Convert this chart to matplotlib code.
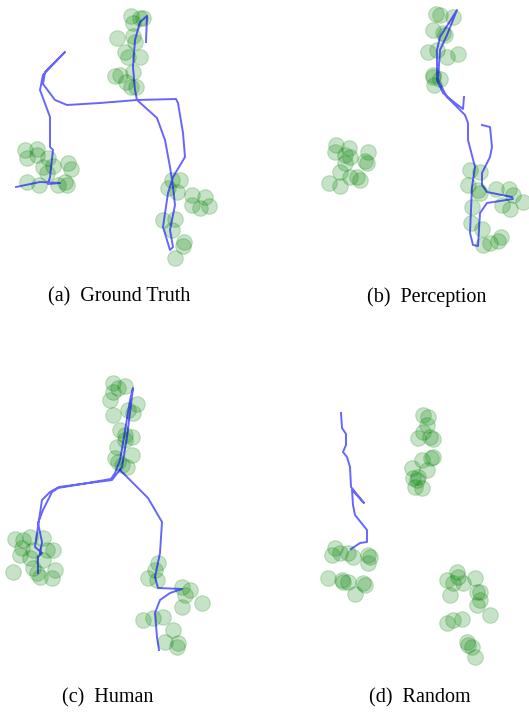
import numpy as np
import matplotlib.pyplot as plt

# object positions (circles) and robot path per panel, in panel pixel coords
a_x = [131, 140, 143, 133, 117, 133, 135, 125, 128, 140, 133, 115, 120, 126, 131, 136,
       25, 37, 27, 37, 48, 43, 53, 68, 71, 27, 39, 58, 67, 65, 47,
       172, 180, 168, 177, 192, 205, 192, 200, 209, 163, 175, 172, 184, 183, 175]
a_y = [16, 18, 18, 23, 38, 36, 42, 52, 57, 57, 72, 76, 75, 82, 87, 87,
       150, 149, 158, 155, 158, 167, 166, 163, 169, 182, 185, 185, 185, 182, 173,
       180, 180, 188, 192, 195, 197, 205, 208, 206, 220, 219, 230, 242, 246, 258]
a_path_x = [16, 40, 60, 48, 50, 53, 50, 50, 40, 43, 65, 45, 43, 55, 67, 100, 137, 176,
            178, 183, 185, 173, 168, 163, 170, 173, 170, 175, 173, 170, 165, 157, 137,
            135, 133, 135, 140, 147, 146]
a_y_path = [187, 182, 183, 184, 177, 150, 147, 117, 90, 75, 52, 72, 84, 100, 105, 103, 100,
            99, 103, 133, 157, 177, 193, 227, 250, 247, 230, 205, 187, 167, 140, 118, 100,
            90, 67, 40, 22, 16, 42]

b_x = [136, 140, 153, 133, 143, 145, 128, 137, 147, 158, 133, 133, 140, 134,
       36, 35, 49, 45, 50, 68, 65, 67, 45, 40, 57, 60, 29, 40, 50,
       170, 180, 168, 178, 180, 196, 209, 213, 223, 202, 210, 172, 171, 182, 183, 190, 198, 201]
b_y = [14, 15, 17, 30, 33, 35, 52, 50, 57, 54, 75, 77, 79, 85,
       145, 152, 148, 155, 157, 152, 161, 163, 163, 172, 177, 180, 183, 186, 177,
       170, 172, 185, 190, 193, 189, 189, 195, 202, 205, 209, 207, 223, 229, 245, 243, 241, 237]
b_path_x = [164, 163, 155, 143, 137, 137, 140, 157, 147, 140, 138, 147, 165, 168, 168,
            175, 172, 170, 173, 178, 180, 187, 213, 212, 187, 182, 182, 190, 192, 190, 182]
b_path_y = [97, 109, 103, 93, 80, 50, 37, 10, 35, 50, 80, 97, 115, 123, 140,
            167, 187, 233, 245, 246, 213, 203, 199, 197, 192, 185, 173, 157, 147, 127, 125]

c_x = [113, 118, 125, 113, 110, 137, 113, 128, 133, 120, 125, 132, 117, 132, 115, 118,
       127, 122, 125,
       15, 23, 30, 43, 22, 33, 47, 53, 20, 30, 43, 13, 33, 55, 40, 52, 37,
       158, 155, 148, 157, 182, 190, 185, 182, 202, 143, 153, 163, 173, 165, 178, 177]
c_y = [23, 28, 26, 32, 40, 44, 55, 50, 53, 70, 75, 77, 87, 95, 98, 102, 107, 105, 80,
       179, 180, 177, 178, 188, 190, 190, 190, 195, 198, 200, 212, 208, 210, 217, 218, 213,
       203, 210, 218, 220, 227, 230, 235, 247, 243, 260, 258, 257, 270, 282, 283, 287]
c_path1_x = [38, 38, 42, 35, 39, 42, 50, 59, 112, 122, 127, 133, 130, 123, 120, 115, 111,
             58, 52, 43, 38, 42, 40]
c_path1_y = [213, 197, 193, 187, 160, 140, 132, 127, 120, 107, 77, 28, 40, 83, 100, 113,
             119, 128, 132, 150, 163, 182, 193]
c_path2_x = [120, 148, 162, 160, 155, 158, 182, 170, 160, 155, 157, 159]
c_path2_y = [110, 138, 162, 193, 217, 228, 229, 233, 240, 253, 277, 290]

d_x = [123, 128, 127, 123, 118, 130, 133, 133, 131, 122, 127, 112, 113, 117, 115, 122, 118,
       35, 32, 40, 48, 53, 68, 70, 68, 28, 42, 43, 48, 63, 65, 55,
       147, 157, 158, 153, 163, 175, 150, 177, 180, 180, 177, 190, 147, 153, 162, 167, 172,
       175, 168]
d_y = [25, 27, 35, 42, 48, 47, 49, 67, 68, 70, 80, 78, 88, 90, 97, 98, 87,
       158, 165, 163, 163, 167, 165, 167, 173, 188, 190, 192, 192, 193, 195, 204,
       190, 182, 187, 193, 193, 188, 205, 202, 202, 210, 215, 225, 233, 230, 229, 252, 257,
       267, 255]
d_path_x = [41, 42, 46, 46, 43, 47, 50, 51, 64, 52, 53, 55, 63, 67, 67, 60, 51]
d_path_y = [23, 38, 44, 55, 62, 67, 77, 97, 113, 100, 115, 125, 135, 140, 152, 153, 159]

W, H = 529, 715
fig = plt.figure(figsize=(W / 100, H / 100), dpi=100)

panels = [
    (0, 0, 265, 270, a_x, a_y, [(a_path_x, a_y_path)]),
    (300, 0, 229, 270, b_x, b_y, [(b_path_x, b_path_y)]),
    (0, 360, 265, 300, c_x, c_y, [(c_path1_x, c_path1_y), (c_path2_x, c_path2_y)]),
    (300, 390, 229, 280, d_x, d_y, [(d_path_x, d_path_y)]),
]

for x0, y0, w, h, px, py, paths in panels:
    ax = fig.add_axes([x0 / W, 1 - (y0 + h) / H, w / W, h / H])
    ax.scatter(px, py, s=125, facecolor='g', edgecolor='g', alpha=0.22, linewidth=0.8)
    for lx, ly in paths:
        ax.plot(lx, ly, color='b', alpha=0.6, linewidth=1.4)
    ax.set_xlim(0, w)
    ax.set_ylim(h, 0)
    ax.axis('off')

captions = [('(a)  Ground Truth', 119, 297), ('(b)  Perception', 427, 297),
            ('(c)  Human', 108, 698), ('(d)  Random', 420, 698)]
for txt, cx, cy in captions:
    fig.text(cx / W, 1 - cy / H, txt, ha='center', va='center',
             family='Liberation Serif', fontsize=14.5)

plt.savefig('out.png', dpi=100)
